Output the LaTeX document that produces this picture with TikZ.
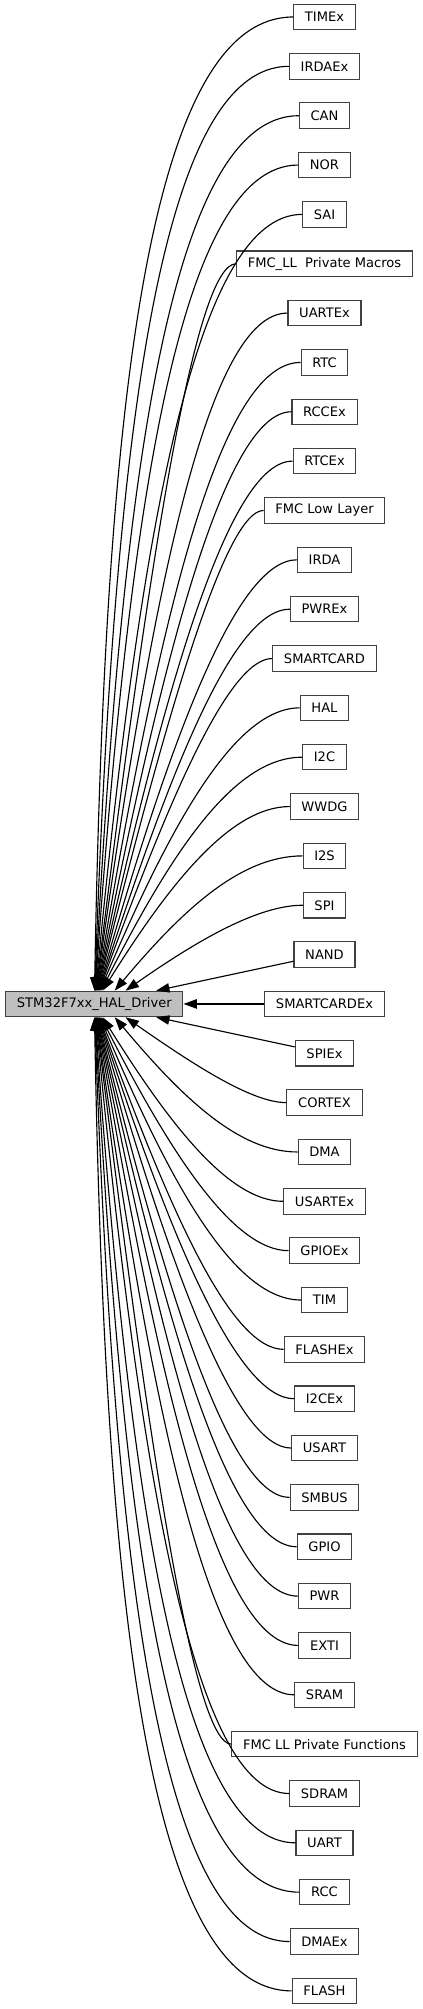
\documentclass[tikz,border=0pt]{standalone}
\usepackage{fontspec}
\setmainfont{DejaVu Sans}
\usetikzlibrary {arrows.meta,positioning}

\definecolor{boxline}{HTML}{404040}
\definecolor{mainfill}{HTML}{BFBFBF}

\begin{document}
\begin{tikzpicture}[x=0.75pt,y=-0.75pt,node distance= 37.01pt]
      \useasboundingbox (0,0) rectangle (423,2009);
      \begin{scope}[every node/.style={rectangle,draw= boxline,line width= 0.8pt,fill= white,
          minimum height= 19.1pt,inner xsep= 8.4pt,inner ysep= 0pt,
          font= \fontsize{9.8pt}{12pt}\selectfont}]
        \node (timex) at (324.5,17) {TIMEx};
        \node (irdaex) [below of= timex] {IRDAEx};
        \node (can) [below of= irdaex] {CAN};
        \node (nor) [below of= can] {NOR};
        \node (sai) [below of= nor] {SAI};
        \node (fmcmacros) [below of= sai] {FMC\_LL\ \ Private Macros};
        \node (uartex) [below of= fmcmacros] {UARTEx};
        \node (rtc) [below of= uartex] {RTC};
        \node (rccex) [below of= rtc] {RCCEx};
        \node (rtcex) [below of= rccex] {RTCEx};
        \node (fmcll) [below of= rtcex] {FMC Low Layer};
        \node (irda) [below of= fmcll] {IRDA};
        \node (pwrex) [below of= irda] {PWREx};
        \node (smartcard) [below of= pwrex] {SMARTCARD};
        \node (hal) [below of= smartcard] {HAL};
        \node (i2c) [below of= hal] {I2C};
        \node (wwdg) [below of= i2c] {WWDG};
        \node (i2s) [below of= wwdg] {I2S};
        \node (spi) [below of= i2s] {SPI};
        \node (nand) [below of= spi] {NAND};
        \node (smartcardex) [below of= nand] {SMARTCARDEx};
        \node (spiex) [below of= smartcardex] {SPIEx};
        \node (cortex) [below of= spiex] {CORTEX};
        \node (dma) [below of= cortex] {DMA};
        \node (usartex) [below of= dma] {USARTEx};
        \node (gpioex) [below of= usartex] {GPIOEx};
        \node (tim) [below of= gpioex] {TIM};
        \node (flashex) [below of= tim] {FLASHEx};
        \node (i2cex) [below of= flashex] {I2CEx};
        \node (usart) [below of= i2cex] {USART};
        \node (smbus) [below of= usart] {SMBUS};
        \node (gpio) [below of= smbus] {GPIO};
        \node (pwr) [below of= gpio] {PWR};
        \node (exti) [below of= pwr] {EXTI};
        \node (sram) [below of= exti] {SRAM};
        \node (fmcfunctions) [below of= sram] {FMC LL Private Functions};
        \node (sdram) [below of= fmcfunctions] {SDRAM};
        \node (uart) [below of= sdram] {UART};
        \node (rcc) [below of= uart] {RCC};
        \node (dmaex) [below of= rcc] {DMAEx};
        \node (flash) [below of= dmaex] {FLASH};
        \node (driver) [fill= mainfill] [node distance= 172.65pt,left of= smartcardex] {STM32F7xx\_HAL\_Driver};
      \end{scope}
      \begin{scope}
        [every edge/.style={draw= black, line width= 0.85pt, -{Triangle[length=10pt,width=7pt]}}]
        % groups above the driver
        \path (timex) edge[out=180,in=89,out distance=108.9pt,in distance=438.5pt] (driver);
        \path (irdaex) edge[out=180,in=88,out distance=97.2pt,in distance=416.5pt] (driver);
        \path (can) edge[out=180,in=87,out distance=94.9pt,in distance=394.6pt] (driver);
        \path (nor) edge[out=180,in=86,out distance=87.6pt,in distance=372.8pt] (driver);
        \path (sai) edge[out=180,in=84.5,out distance=79pt,in distance=351.2pt] (driver);
        \path (fmcmacros) edge[out=180,in=83,out distance=30.5pt,in distance=329.9pt] (driver);
        \path (uartex) edge[out=180,in=82,out distance=59.2pt,in distance=308.2pt] (driver);
        \path (rtc) edge[out=180,in=80.5,out distance=60.2pt,in distance=287pt] (driver);
        \path (rccex) edge[out=180,in=79,out distance=48.4pt,in distance=265.7pt] (driver);
        \path (rtcex) edge[out=180,in=77.5,out distance=46.4pt,in distance=244.4pt] (driver);
        \path (fmcll) edge[out=180,in=76,out distance=28pt,in distance=223pt] (driver);
        \path (irda) edge[out=180,in=74,out distance=44.6pt,in distance=202pt] (driver);
        \path (pwrex) edge[out=180,in=72,out distance=41.6pt,in distance=180.8pt] (driver);
        \path (smartcard) edge[out=180,in=70,out distance=31.8pt,in distance=159.4pt] (driver);
        \path (hal) edge[out=180,in=67,out distance=48pt,in distance=138.5pt] (driver);
        \path (i2c) edge[out=180,in=63,out distance=50.9pt,in distance=118.2pt] (driver);
        \path (wwdg) edge[out=180,in=58,out distance=43.4pt,in distance=98pt] (driver);
        \path (i2s) edge[out=180,in=50,out distance=46.4pt,in distance=79.5pt] (driver.33);
        \path (spi) edge[out=180,in=35,out distance=33.1pt,in distance=67.5pt] (driver.23);
        \path (nand) edge (driver);
        \path (smartcardex) edge (driver);
        % groups below the driver
        \path (spiex) edge (driver);
        \path (cortex) edge[out=180,in=-35,out distance=24.7pt,in distance=67.5pt] (driver.-23);
        \path (dma) edge[out=180,in=-50,out distance=44pt,in distance=79.5pt] (driver.-33);
        \path (usartex) edge[out=180,in=-58,out distance=39.8pt,in distance=98pt] (driver);
        \path (gpioex) edge[out=180,in=-63,out distance=40.7pt,in distance=118.2pt] (driver);
        \path (tim) edge[out=180,in=-67,out distance=49.8pt,in distance=138.5pt] (driver);
        \path (flashex) edge[out=180,in=-70,out distance=39pt,in distance=159.4pt] (driver);
        \path (i2cex) edge[out=180,in=-72,out distance=41.6pt,in distance=180.8pt] (driver);
        \path (usart) edge[out=180,in=-74,out distance=41pt,in distance=202pt] (driver);
        \path (smbus) edge[out=180,in=-76,out distance=43.6pt,in distance=223pt] (driver);
        \path (gpio) edge[out=180,in=-77.5,out distance=49.4pt,in distance=244.4pt] (driver);
        \path (pwr) edge[out=180,in=-79,out distance=53.8pt,in distance=265.7pt] (driver);
        \path (exti) edge[out=180,in=-80.5,out distance=58.4pt,in distance=287pt] (driver);
        \path (sram) edge[out=180,in=-82,out distance=61.6pt,in distance=308.2pt] (driver);
        \path (fmcfunctions) edge[out=180,in=-83,out distance=28.1pt,in distance=329.9pt] (driver);
        \path (sdram) edge[out=180,in=-84.5,out distance=70.6pt,in distance=351.2pt] (driver);
        \path (uart) edge[out=180,in=-86,out distance=84.6pt,in distance=372.8pt] (driver);
        \path (rcc) edge[out=180,in=-87,out distance=96.7pt,in distance=394.6pt] (driver);
        \path (dmaex) edge[out=180,in=-88,out distance=97.2pt,in distance=416.5pt] (driver);
        \path (flash) edge[out=180,in=-89,out distance=107.7pt,in distance=438.5pt] (driver);
      \end{scope}
    \end{tikzpicture}
\end{document}
